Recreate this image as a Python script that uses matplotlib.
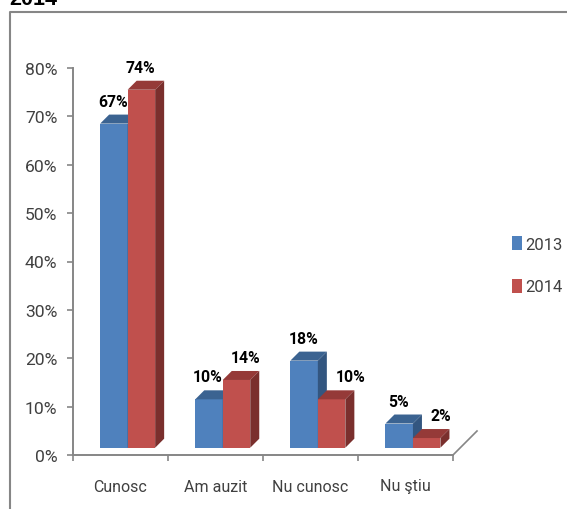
import matplotlib
matplotlib.use("Agg")
import matplotlib.pyplot as plt
from matplotlib.patches import Polygon, Patch
from matplotlib.lines import Line2D

categories = ["Cunosc", "Am auzit", "Nu cunosc", "Nu ştiu"]
years = ["2013", "2014"]
values_2013 = [67, 10, 18, 5]
values_2014 = [74, 14, 10, 2]
y_ticks = [0, 10, 20, 30, 40, 50, 60, 70, 80]

W, H = 567, 510
AX_L, AX_R, AX_T, AX_B = 72.6, 453.0, 69.0, 456.0
BAR_W = 27.5
DEPTH = 9.0
FLOOR_GAP = 7.3
GROUP_SHIFT = 7.5
GRAY = "#868686"
TEXT = "#404040"

FRONT = ["#4F81BD", "#C0504D"]
TOP = ["#3B6391", "#953A38"]
SIDE = ["#335680", "#7A2F2D"]

# horizontal nudges (px) that keep the value labels clear of neighbouring bars
label_dx = [[-1, -1, 0, -1], [-1, 9, 19, 14]]

plt.rcParams["font.family"] = ["Roboto", "DejaVu Sans"]
fig = plt.figure(figsize=(W / 100, H / 100), dpi=100)
ax = fig.add_axes([AX_L / W, 1 - AX_B / H, (AX_R - AX_L) / W, (AX_B - AX_T) / H])
ax.set_xlim(0, len(categories))
ax.set_ylim(0, 80)
ax.patch.set_alpha(0)

px_x = len(categories) / (AX_R - AX_L)
px_y = 80 / (AX_B - AX_T)
bw, dx, dy = BAR_W * px_x, DEPTH * px_x, DEPTH * px_y
base = FLOOR_GAP * px_y

for s, vals in enumerate([values_2013, values_2014]):
    for i, v in enumerate(vals):
        left = i + 0.5 + GROUP_SHIFT * px_x + (s - 1) * bw
        top = base + v
        ax.bar(left, v, bw, bottom=base, align="edge", color=FRONT[s], zorder=3 + s, clip_on=False)
        ax.add_patch(Polygon([(left, top), (left + bw, top), (left + bw + dx, top + dy), (left + dx, top + dy)],
                             closed=True, fc=TOP[s], ec="none", zorder=3 + s, clip_on=False))
        ax.add_patch(Polygon([(left + bw, base), (left + bw + dx, base + dy), (left + bw + dx, top + dy), (left + bw, top)],
                             closed=True, fc=SIDE[s], ec="none", zorder=3 + s, clip_on=False))
        ax.annotate(f"{v}%", (left + bw / 2, top), xytext=(label_dx[s][i] * 0.72, 22.5 * 0.72),
                    textcoords="offset points", ha="center", va="center",
                    fontsize=11.3, fontweight="bold", color="black", zorder=6)

for side in ["top", "right"]:
    ax.spines[side].set_visible(False)
for side in ["left", "bottom"]:
    ax.spines[side].set_color(GRAY)
    ax.spines[side].set_linewidth(1.4)

ax.set_yticks(y_ticks)
ax.set_yticklabels([f"{t}%" for t in y_ticks])
ax.set_xticks(range(len(categories) + 1))
ax.set_xticklabels([""] * (len(categories) + 1))
ax.tick_params(axis="y", length=4.2, width=1.2, color=GRAY, labelcolor=TEXT, labelsize=12.6, pad=6.8)
ax.tick_params(axis="x", length=4.2, width=1.2, color=GRAY)
for i, name in enumerate(categories):
    ax.annotate(name, (i + 0.5, 0), xytext=(0, -31 * 0.72), textcoords="offset points",
                ha="center", va="center", fontsize=11.5, color=TEXT)

# receding floor edge at the end of the category axis
ax.add_line(Line2D([len(categories), len(categories) + 24 * px_x], [0, 24 * px_y],
                   color=GRAY, lw=1.2, clip_on=False))

# chart frame, open at the right and bottom edges
fig.add_artist(Line2D([9.5 / W, 9.5 / W, 1], [0, 1 - 12.5 / H, 1 - 12.5 / H],
                      color=GRAY, lw=1.5))

fig.text(9 / W, 1 - 5 / H, "2014", family="Liberation Sans", fontweight="bold",
         fontsize=15.5, color="black", ha="left", va="baseline")

handles = [Patch(fc=FRONT[0], label=years[0]), Patch(fc=FRONT[1], label=years[1])]
fig.legend(handles=handles, loc="center left", frameon=False,
           bbox_to_anchor=(512 / W, 1 - 266 / H), fontsize=12, labelcolor=TEXT,
           handlelength=0.6, handleheight=0.95, handletextpad=0.22,
           labelspacing=1.62, borderpad=0, borderaxespad=0)

fig.savefig("out.png", dpi=100)
